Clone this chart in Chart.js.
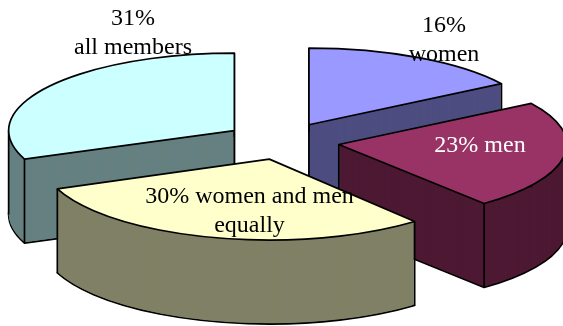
<!DOCTYPE html>
<html lang="en">
<head>
<meta charset="UTF-8">
<title>Who does the work</title>
<script src="https://cdn.jsdelivr.net/npm/chart.js@4"></script>
<style>
    body { margin: 0; background: #fff; }
    canvas { display: block; }
</style>
</head>
<body>
<canvas id="pie" width="563" height="326"></canvas>
<script>
    // values
    const categories = ['16% women', '23% men', '30% women and men equally', '31% all members'];
    const shares = [16, 23, 30, 31];
    const topColors = ['#9999FF', '#993366', '#FFFFCC', '#CCFFFF'];
    const sideColors = ['#4D4D80', '#4D1933', '#808066', '#668080'];
    const labelLines = [['16%', 'women'], ['23% men'], ['30% women and men', 'equally'], ['31%', 'all members']];
    const labelColors = ['#000', '#fff', '#000', '#000'];
    const labelSpots = [[444, 32], [480, 152], [249.5, 203], [133, 25]];
    const lineGap = 28.5;

    // fake 3d look, the slices are not quite the same size in the original
    const squash = [0.336, 0.336, 0.355, 0.34];
    const widen = [1, 1, 1, 0.99];
    const nudge = [[0, 0], [1, 0], [2, -2], [0, 0]];
    const depth = 84;
    const explode = 57;
    const drawOrder = [3, 0, 1, 2];

    function sliceShift(arc, i) {
        const mid = (arc.startAngle + arc.endAngle) / 2;
        return [Math.cos(mid) * explode + nudge[i][0], Math.sin(mid) * explode * squash[i] + nudge[i][1]];
    }

    // runs fn with the context set so arc coords land on the tilted slice
    function tilted(ctx, arc, i, down, fn) {
        const [sx, sy] = sliceShift(arc, i);
        ctx.save();
        ctx.translate(arc.x + sx, arc.y + sy + down);
        ctx.scale(widen[i], squash[i]);
        ctx.translate(-arc.x, -arc.y);
        fn();
        ctx.restore();
    }

    function fillArc(ctx, arc, i, color, down) {
        const old = arc.options.backgroundColor;
        arc.options.backgroundColor = color;
        tilted(ctx, arc, i, down, () => arc.draw(ctx));
        arc.options.backgroundColor = old;
    }

    function outline(ctx, arc, i, down) {
        ctx.beginPath();
        tilted(ctx, arc, i, down, () => {
            ctx.moveTo(arc.x, arc.y);
            ctx.arc(arc.x, arc.y, arc.outerRadius, arc.startAngle, arc.endAngle);
            ctx.closePath();
        });
        ctx.stroke();
    }

    function riser(ctx, arc, i, angle, r) {
        const [sx, sy] = sliceShift(arc, i);
        const x = arc.x + sx + Math.cos(angle) * r * widen[i];
        const y = arc.y + sy + Math.sin(angle) * r * squash[i];
        ctx.beginPath();
        ctx.moveTo(x, y);
        ctx.lineTo(x, y + depth);
        ctx.stroke();
    }

    function inSlice(arc, a) {
        const t = ((a - arc.startAngle) % (2 * Math.PI) + 2 * Math.PI) % (2 * Math.PI);
        return t < arc.endAngle - arc.startAngle;
    }

    const tiltedPie = {
        id: 'tiltedPie',
        beforeDatasetsDraw(chart) {
            const ctx = chart.ctx;
            const arcs = chart.getDatasetMeta(0).data;
            ctx.save();
            ctx.strokeStyle = '#000';
            ctx.lineWidth = 1.7;
            ctx.lineJoin = 'round';
            drawOrder.forEach(i => {
                const arc = arcs[i];
                fillArc(ctx, arc, i, sideColors[i], depth);
                outline(ctx, arc, i, depth);
                for (let d = depth - 1; d > 0; d--) fillArc(ctx, arc, i, sideColors[i], d);
                // the center edge only shows when the slice doesn't face the viewer
                if (!inSlice(arc, Math.PI / 2)) riser(ctx, arc, i, arc.startAngle, 0);
                riser(ctx, arc, i, arc.startAngle, arc.outerRadius);
                riser(ctx, arc, i, arc.endAngle, arc.outerRadius);
                // silhouette of the rim on the left / right
                [0, Math.PI].forEach(a => {
                    if (inSlice(arc, a)) riser(ctx, arc, i, a, arc.outerRadius);
                });
                fillArc(ctx, arc, i, topColors[i], 0);
                outline(ctx, arc, i, 0);
            });
            ctx.restore();

            ctx.save();
            ctx.font = '24px "Liberation Serif"';
            ctx.textAlign = 'center';
            ctx.textBaseline = 'alphabetic';
            labelLines.forEach((lines, i) => {
                ctx.fillStyle = labelColors[i];
                lines.forEach((t, n) => ctx.fillText(t, labelSpots[i][0], labelSpots[i][1] + n * lineGap));
            });
            ctx.restore();
            return false;
        }
    };

    new Chart(document.getElementById('pie'), {
        type: 'pie',
        data: {
            labels: categories,
            datasets: [{ data: shares, backgroundColor: topColors, borderWidth: 0 }]
        },
        options: {
            responsive: false,
            animation: false,
            radius: 228,
            layout: { padding: { bottom: 43 } },
            plugins: { legend: { display: false }, tooltip: { enabled: false } }
        },
        plugins: [tiltedPie]
    });
</script>
</body>
</html>
